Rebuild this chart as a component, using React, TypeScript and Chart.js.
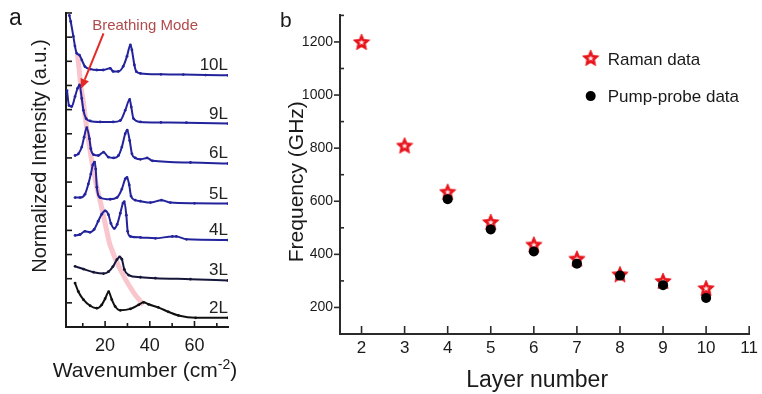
import React, { useEffect, useRef } from "react";
import { Chart, registerables } from "chart.js";

Chart.register(...registerables);

const FONT = "'Liberation Sans', Arial, Helvetica, sans-serif";
const INK = "#1a1a1a";

// ---------------- Panel a: Raman spectra (offset, normalized) ----------------
const wn10L = [4.0, 4.6, 5.8, 6.5, 7.3, 8.5, 9.6, 11.0, 13.3, 16.3, 19.1, 22.3, 23.6, 25.9, 28.1, 29.8, 31.3, 32.0, 33.1, 34.0, 35.8, 45, 55, 65, 75];
const int10L = [12.9, 12.65, 12.03, 11.63, 11.33, 11.26, 11.05, 10.78, 10.68, 10.64, 10.64, 10.71, 10.58, 10.58, 10.79, 11.21, 11.68, 11.47, 10.85, 10.57, 10.5, 10.46, 10.45, 10.43, 10.42];

const wn9L = [2.95, 3.85, 5.06, 6.54, 7.67, 8.57, 9.56, 10.3, 11.5, 13.3, 17.8, 23.6, 26.8, 29.0, 31.0, 31.7, 32.7, 35.8, 45, 56.4, 75];
const int9L = [9.79, 9.17, 9.13, 9.54, 9.88, 10.02, 9.46, 8.97, 8.63, 8.53, 8.49, 8.49, 8.55, 8.97, 9.42, 9.11, 8.63, 8.49, 8.47, 8.46, 8.42];

const wn6L = [6.55, 8.03, 9.56, 10.6, 11.8, 13.0, 13.6, 14.8, 17.0, 19.3, 21.5, 23.8, 26.0, 27.5, 29.0, 29.9, 31.0, 32.0, 33.5, 35.8, 38.8, 41.2, 58.2, 75];
const int6L = [7.1, 7.17, 7.45, 7.86, 8.25, 7.79, 7.38, 7.14, 7.1, 7.24, 7.03, 7.0, 7.1, 7.45, 8.0, 8.15, 7.72, 7.17, 7.0, 6.94, 7.0, 6.88, 6.81, 6.77];

const wn5L = [6.55, 8.79, 11.0, 12.5, 13.6, 14.5, 15.3, 15.8, 16.3, 17.8, 22.3, 25.3, 27.5, 29.0, 29.8, 30.8, 31.6, 33.5, 35.8, 40.3, 45.2, 49.2, 60, 75];
const int5L = [5.36, 5.36, 5.5, 5.92, 6.33, 6.71, 6.83, 6.54, 5.79, 5.36, 5.29, 5.36, 5.71, 6.13, 6.19, 5.88, 5.42, 5.25, 5.21, 5.15, 5.25, 5.15, 5.12, 5.11];

const wn4L = [6.55, 8.8, 11.0, 13.3, 15.1, 16.9, 18.5, 20.0, 21.5, 22.6, 24.1, 25.4, 26.8, 28.0, 28.6, 29.5, 30.1, 31.3, 35.8, 42.5, 50.1, 51.9, 56.4, 75];
const int4L = [3.79, 3.83, 3.96, 3.92, 4.04, 4.38, 4.67, 4.81, 4.65, 4.29, 4.08, 4.25, 4.71, 5.13, 5.19, 4.63, 3.96, 3.75, 3.71, 3.67, 3.75, 3.75, 3.63, 3.6];

const wn3L = [6.55, 10.3, 14.8, 19.3, 21.5, 23.5, 25.3, 26.5, 27.5, 28.6, 30.5, 35.8, 42.5, 58.2, 75];
const int3L = [2.51, 2.4, 2.27, 2.21, 2.29, 2.5, 2.79, 2.9, 2.81, 2.38, 2.15, 2.06, 2.02, 1.98, 1.93];

const wn2L = [6.55, 8.0, 10.3, 13.3, 16.3, 18.5, 20.0, 21.6, 23.0, 24.5, 26.8, 31.3, 35.0, 37.2, 39.4, 43.8, 48.3, 52.8, 60.5, 75];
const int2L = [1.82, 1.47, 1.13, 0.88, 0.78, 0.92, 1.17, 1.46, 1.13, 0.85, 0.69, 0.75, 0.92, 1.02, 0.94, 0.81, 0.63, 0.48, 0.38, 0.38];

// breathing-mode guide curve
const wnGuide = [7.58, 8.34, 9.02, 10.14, 11.04, 12.16, 13.29, 14.41, 16.3, 18.54, 20.79, 22.28, 26.77, 32.75, 37.24];
const intGuide = [11.29, 10.71, 10.08, 9.38, 8.75, 8.0, 7.29, 6.67, 5.79, 4.92, 3.96, 3.38, 2.38, 1.42, 0.92];

const traceNames = ["10L", "9L", "6L", "5L", "4L", "3L", "2L"];
const traceX = [wn10L, wn9L, wn6L, wn5L, wn4L, wn3L, wn2L];
const traceY = [int10L, int9L, int6L, int5L, int4L, int3L, int2L];
const traceColors = ["#23239c", "#23239c", "#23239c", "#23239c", "#23239c", "#16163a", "#111111"];

const aXMajor = [20, 40, 60];
const aXMinor = [10, 30, 50, 70];
const aYTicks = [1, 2, 3, 4, 5, 6, 7, 8, 9, 10, 11, 12, 13];

const breathingText = "Breathing Mode";
const breathingTextAt = { x: 14.2, y: 12.3 };
const arrowFrom = { x: 19.3, y: 12.16 };
const arrowTo = { x: 9.2, y: 9.86 };

// ---------------- Panel b: frequency vs layer number ----------------
const ramanLayers = [2, 3, 4, 5, 6, 7, 8, 9, 10];
const ramanFreq = [1200, 810, 636, 522, 437, 384, 325, 300, 273];
const pumpLayers = [4, 5, 6, 7, 8, 9, 10];
const pumpFreq = [608, 494, 411, 365, 320, 284, 236];

const bXTicks = [2, 3, 4, 5, 6, 7, 8, 9, 10, 11];
const bYMajor = [200, 400, 600, 800, 1000, 1200];
const bYMinor = [300, 500, 700, 900, 1100, 1300];
const legendLabels = ["Raman data", "Pump-probe data"];
const legendAt = [{ x: 7.32, y: 1140 }, { x: 7.32, y: 996 }];

function starPath(g: CanvasRenderingContext2D, cx: number, cy: number, r1: number, r2: number) {
  g.beginPath();
  for (let i = 0; i < 10; i++) {
    const r = i % 2 ? r2 : r1;
    const a = -Math.PI / 2 + (i * Math.PI) / 5;
    const px = cx + r * Math.cos(a);
    const py = cy + r * Math.sin(a);
    if (i === 0) g.moveTo(px, py);
    else g.lineTo(px, py);
  }
  g.closePath();
}

function makeStar(): HTMLCanvasElement {
  const c = document.createElement("canvas");
  c.width = 18;
  c.height = 18;
  const g = c.getContext("2d")!;
  starPath(g, 9, 9.7, 8.6, 4.0);
  g.fillStyle = "#e8141c";
  g.fill();
  g.lineJoin = "round";
  g.lineWidth = 0.8;
  g.strokeStyle = "#e8141c";
  g.stroke();
  starPath(g, 9, 9.5, 3.0, 1.3);
  g.fillStyle = "#fff0f0";
  g.fill();
  return c;
}

function line(ctx: CanvasRenderingContext2D, x1: number, y1: number, x2: number, y2: number) {
  ctx.beginPath();
  ctx.moveTo(x1, y1);
  ctx.lineTo(x2, y2);
  ctx.stroke();
}

export default function App() {
  const refA = useRef<HTMLCanvasElement>(null);
  const refB = useRef<HTMLCanvasElement>(null);

  useEffect(() => {
    const star = makeStar();

    const panelAPlugin = {
      id: "panelA",
      afterDraw(chart: any) {
        const { ctx, chartArea: ca, scales } = chart;
        const x = scales.x;
        const y = scales.y;
        ctx.save();
        ctx.strokeStyle = INK;
        ctx.lineWidth = 1.6;
        aYTicks.forEach((v) => {
          const py = y.getPixelForValue(v);
          line(ctx, ca.left, py, ca.left + 6, py);
        });
        aXMajor.forEach((v) => {
          const px = x.getPixelForValue(v);
          line(ctx, px, ca.bottom, px, ca.bottom - 6);
        });
        aXMinor.forEach((v) => {
          const px = x.getPixelForValue(v);
          line(ctx, px, ca.bottom, px, ca.bottom - 4);
        });

        // trace labels
        ctx.fillStyle = "#222";
        ctx.font = `17px ${FONT}`;
        ctx.textAlign = "right";
        ctx.textBaseline = "alphabetic";
        traceNames.forEach((name, i) => {
          const ys = traceY[i];
          const py = y.getPixelForValue(ys[ys.length - 1]) - 5;
          ctx.fillText(name, x.getPixelForValue(75), py);
        });

        // breathing mode annotation
        ctx.fillStyle = "#b04a4c";
        ctx.font = `15px ${FONT}`;
        ctx.textAlign = "left";
        ctx.fillText(breathingText, x.getPixelForValue(breathingTextAt.x), y.getPixelForValue(breathingTextAt.y));
        const ax1 = x.getPixelForValue(arrowFrom.x);
        const ay1 = y.getPixelForValue(arrowFrom.y);
        const ax2 = x.getPixelForValue(arrowTo.x);
        const ay2 = y.getPixelForValue(arrowTo.y);
        const ang = Math.atan2(ay2 - ay1, ax2 - ax1);
        const hl = 10;
        const hw = 4.5;
        ctx.strokeStyle = "#e42a26";
        ctx.fillStyle = "#e42a26";
        ctx.lineWidth = 2;
        const bx = ax2 - hl * Math.cos(ang);
        const by = ay2 - hl * Math.sin(ang);
        line(ctx, ax1, ay1, bx, by);
        ctx.beginPath();
        ctx.moveTo(ax2, ay2);
        ctx.lineTo(bx + hw * Math.sin(ang), by - hw * Math.cos(ang));
        ctx.lineTo(bx - hw * Math.sin(ang), by + hw * Math.cos(ang));
        ctx.closePath();
        ctx.fill();

        // axis titles
        ctx.fillStyle = INK;
        ctx.font = `20px ${FONT}`;
        ctx.save();
        ctx.translate(ca.left - 20, (ca.top + ca.bottom) / 2 - 14);
        ctx.rotate(-Math.PI / 2);
        ctx.textAlign = "center";
        ctx.fillText("Normalized Intensity (a.u.)", 0, 0);
        ctx.restore();

        const main = "Wavenumber (cm";
        const sup = "-2";
        const close = ")";
        ctx.font = `21px ${FONT}`;
        const w1 = ctx.measureText(main).width;
        const w3 = ctx.measureText(close).width;
        ctx.font = `14px ${FONT}`;
        const w2 = ctx.measureText(sup).width;
        const by0 = ca.bottom + 50;
        let tx = (ca.left + ca.right) / 2 - 2 - (w1 + w2 + w3) / 2;
        ctx.textAlign = "left";
        ctx.font = `21px ${FONT}`;
        ctx.fillText(main, tx, by0);
        tx += w1;
        ctx.font = `14px ${FONT}`;
        ctx.fillText(sup, tx, by0 - 8);
        tx += w2;
        ctx.font = `21px ${FONT}`;
        ctx.fillText(close, tx, by0);

        ctx.font = `23px ${FONT}`;
        ctx.fillText("a", 9, 25);
        ctx.restore();
      },
    };

    const panelBPlugin = {
      id: "panelB",
      afterDraw(chart: any) {
        const { ctx, chartArea: ca, scales } = chart;
        const x = scales.x;
        const y = scales.y;
        ctx.save();
        ctx.strokeStyle = "#2a2a2a";
        ctx.lineWidth = 1.6;
        bXTicks.forEach((v) => {
          const px = x.getPixelForValue(v);
          line(ctx, px, ca.bottom, px, ca.bottom - 8);
        });
        bYMajor.forEach((v) => {
          const py = y.getPixelForValue(v);
          line(ctx, ca.left, py, ca.left - 6, py);
        });
        bYMinor.forEach((v) => {
          const py = y.getPixelForValue(v);
          line(ctx, ca.left, py, ca.left + 4, py);
        });

        // legend
        ctx.fillStyle = INK;
        ctx.font = `17px ${FONT}`;
        ctx.textAlign = "left";
        ctx.textBaseline = "middle";
        const lx0 = x.getPixelForValue(legendAt[0].x);
        const ly0 = y.getPixelForValue(legendAt[0].y);
        ctx.drawImage(star, lx0 - star.width / 2, ly0 - star.height / 2);
        ctx.fillText(legendLabels[0], lx0 + 17, ly0 + 2);
        const lx1 = x.getPixelForValue(legendAt[1].x);
        const ly1 = y.getPixelForValue(legendAt[1].y);
        ctx.beginPath();
        ctx.arc(lx1, ly1, 5, 0, Math.PI * 2);
        ctx.fillStyle = "#000";
        ctx.fill();
        ctx.fillStyle = INK;
        ctx.fillText(legendLabels[1], lx1 + 17, ly1 + 1);

        // titles
        ctx.textBaseline = "alphabetic";
        ctx.font = `21px ${FONT}`;
        ctx.save();
        ctx.translate(ca.left - 37, (ca.top + ca.bottom) / 2 + 7);
        ctx.rotate(-Math.PI / 2);
        ctx.textAlign = "center";
        ctx.fillText("Frequency (GHz)", 0, 0);
        ctx.restore();

        ctx.font = `23px ${FONT}`;
        ctx.textAlign = "center";
        ctx.fillText("Layer number", (ca.left + ca.right) / 2 - 7.5, ca.bottom + 53);

        ctx.textAlign = "left";
        ctx.font = `21px ${FONT}`;
        ctx.fillText("b", 30, 27);
        ctx.restore();
      },
    };

    const datasetsA: any[] = traceNames.map((name, i) => ({
      label: name,
      data: traceX[i].map((xv, j) => ({ x: xv, y: traceY[i][j] })),
      borderColor: traceColors[i],
      backgroundColor: traceColors[i],
      borderWidth: 2,
      pointRadius: 1.4,
      pointBorderWidth: 0,
      pointBackgroundColor: traceColors[i],
      cubicInterpolationMode: "monotone",
      order: 1,
    }));
    datasetsA.push({
      label: "guide",
      data: wnGuide.map((xv, j) => ({ x: xv, y: intGuide[j] })),
      borderColor: "rgba(244,160,170,0.6)",
      borderWidth: 5,
      pointRadius: 0,
      tension: 0.4,
      order: 10,
    });

    const chartA = new Chart(refA.current!, {
      type: "line",
      data: { datasets: datasetsA },
      plugins: [panelAPlugin],
      options: {
        responsive: false,
        animation: false,
        events: [],
        layout: { padding: { left: 16, right: 22, top: 13, bottom: 27 } },
        plugins: { legend: { display: false }, tooltip: { enabled: false } },
        scales: {
          x: {
            type: "linear",
            min: 2.5,
            max: 75,
            afterFit: (s: any) => {
              s.height = 40;
            },
            afterBuildTicks: (s: any) => {
              s.ticks = aXMajor.map((v) => ({ value: v }));
            },
            grid: { display: false, drawTicks: false },
            border: { display: true, color: INK, width: 2 },
            ticks: {
              autoSkip: false,
              maxRotation: 0,
              padding: 8,
              color: INK,
              font: { family: FONT, size: 18 },
              callback: (v: any) => String(v),
            },
          },
          y: {
            type: "linear",
            min: 0,
            max: 13,
            afterFit: (s: any) => {
              s.width = 50;
            },
            grid: { display: false, drawTicks: false },
            border: { display: true, color: INK, width: 2 },
            ticks: { display: false, stepSize: 1 },
          },
        },
      } as any,
    });

    const chartB = new Chart(refB.current!, {
      type: "scatter",
      data: {
        datasets: [
          {
            label: "Raman data",
            data: ramanLayers.map((l, i) => ({ x: l, y: ramanFreq[i] })),
            pointStyle: star as any,
            order: 2,
          },
          {
            label: "Pump-probe data",
            data: pumpLayers.map((l, i) => ({ x: l, y: pumpFreq[i] })),
            pointStyle: "circle",
            pointRadius: 5,
            pointBorderWidth: 0,
            backgroundColor: "#000",
            borderColor: "#000",
            order: 1,
          },
        ],
      },
      plugins: [panelBPlugin],
      options: {
        responsive: false,
        animation: false,
        events: [],
        layout: { padding: { left: 30, right: 12, top: 10, bottom: 15 } },
        plugins: { legend: { display: false }, tooltip: { enabled: false } },
        scales: {
          x: {
            type: "linear",
            min: 1.5,
            max: 11,
            afterFit: (s: any) => {
              s.height = 45;
            },
            afterBuildTicks: (s: any) => {
              s.ticks = bXTicks.map((v) => ({ value: v }));
            },
            grid: { display: false, drawTicks: false },
            border: { display: true, color: "#2a2a2a", width: 2 },
            ticks: {
              autoSkip: false,
              maxRotation: 0,
              padding: 4,
              color: INK,
              font: { family: FONT, size: 17 },
              callback: (v: any) => String(v),
            },
          },
          y: {
            type: "linear",
            min: 100,
            max: 1300,
            afterFit: (s: any) => {
              s.width = 60;
            },
            afterBuildTicks: (s: any) => {
              s.ticks = bYMajor.map((v) => ({ value: v }));
            },
            grid: { display: false, drawTicks: false },
            border: { display: true, color: "#2a2a2a", width: 2 },
            ticks: {
              autoSkip: false,
              padding: 7,
              color: INK,
              font: { family: FONT, size: 14 },
              callback: (v: any) => String(v),
            },
          },
        },
      } as any,
    });

    return () => {
      chartA.destroy();
      chartB.destroy();
    };
  }, []);

  return (
    <div style={{ position: "absolute", left: 0, top: 0, width: 762, height: 394, background: "#fff" }}>
      <canvas ref={refA} width={250} height={394} style={{ position: "absolute", left: 0, top: 0, width: 250, height: 394 }} />
      <canvas ref={refB} width={512} height={394} style={{ position: "absolute", left: 250, top: 0, width: 512, height: 394 }} />
    </div>
  );
}
